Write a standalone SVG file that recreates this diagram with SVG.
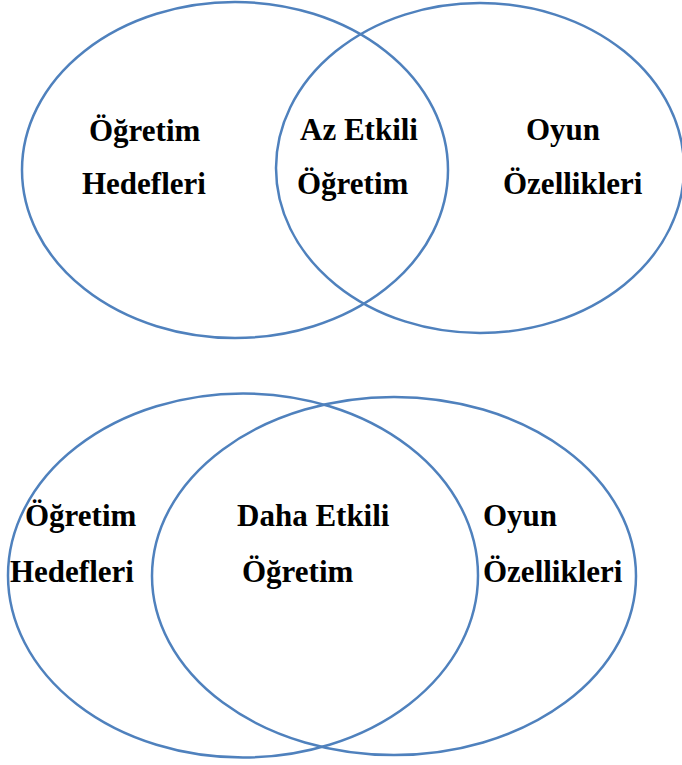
<svg xmlns="http://www.w3.org/2000/svg" width="682" height="765" viewBox="0 0 682 765">
<style>
.c{fill:none;stroke:#4F81BD;stroke-width:2.5}
text{font-family:'Liberation Serif','DejaVu Serif',serif;font-weight:700;font-size:31px;fill:#000}
</style>
<rect width="682" height="765" fill="#fff"/>
<g id="top-left"><ellipse class="c" cx="235" cy="170" rx="213" ry="168"/></g>
<g id="top-right"><ellipse class="c" cx="480" cy="168" rx="204" ry="165"/></g>
<g id="bottom-left"><ellipse class="c" cx="243" cy="575.5" rx="235" ry="182"/></g>
<g id="bottom-right"><ellipse class="c" cx="394" cy="576" rx="242" ry="179"/></g>
<g id="top-labels" font-family="Liberation Serif, DejaVu Serif, serif">
<text x="89" y="141">Öğretim</text>
<text x="82" y="194">Hedefleri</text>
<text x="300" y="140">Az Etkili</text>
<text x="297" y="194">Öğretim</text>
<text x="526" y="140">Oyun</text>
<text x="503" y="194">Özellikleri</text>
</g>
<g id="bottom-labels" font-family="Liberation Serif, DejaVu Serif, serif">
<text x="25" y="526">Öğretim</text>
<text x="10" y="582">Hedefleri</text>
<text x="237" y="526">Daha Etkili</text>
<text x="242" y="582">Öğretim</text>
<text x="483" y="526">Oyun</text>
<text x="483" y="582">Özellikleri</text>
</g>
</svg>
